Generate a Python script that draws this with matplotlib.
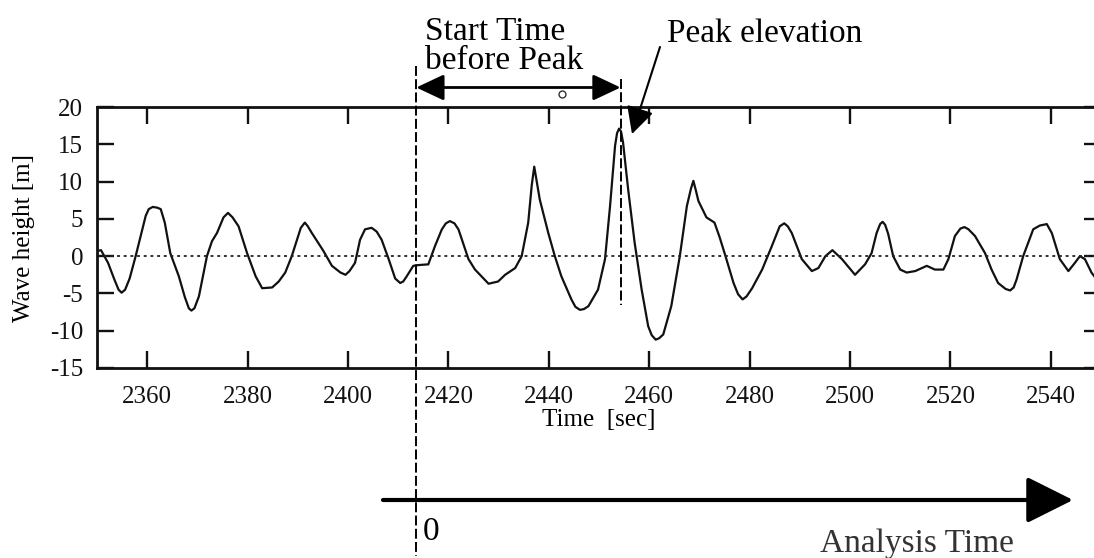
import matplotlib.pyplot as plt
from matplotlib.lines import Line2D
from matplotlib.transforms import blended_transform_factory

# wave record: time [sec] and surface elevation [m]
time_sec = [2350.1, 2350.8, 2352.2, 2353.5, 2354.3, 2354.9, 2355.6, 2356.5, 2357.7, 2359.7,
            2360.3, 2361.1, 2362.0, 2362.7, 2363.5, 2364.6, 2366.3, 2367.5, 2368.3, 2368.8,
            2369.4, 2370.3, 2371.9, 2372.9, 2373.9, 2375.2, 2376.1, 2377.0, 2378.2, 2379.9,
            2381.6, 2382.9, 2384.9, 2386.2, 2387.5, 2388.8, 2390.6, 2391.4, 2392.0, 2392.8,
            2395.1, 2396.8, 2398.5, 2399.5, 2400.3, 2401.4, 2402.4, 2403.4, 2404.7, 2405.7,
            2406.7, 2408.1, 2409.4, 2410.4, 2411.0, 2411.7, 2413.0, 2414.0, 2416.0, 2417.3,
            2418.7, 2419.5, 2420.3, 2421.2, 2422.0, 2424.0, 2425.3, 2428.0, 2429.9, 2431.3,
            2433.3, 2434.6, 2435.9, 2436.6, 2437.1, 2437.6, 2438.2, 2439.9, 2441.2, 2442.5,
            2444.5, 2445.3, 2446.2, 2447.0, 2447.9, 2449.8, 2451.2, 2452.2, 2453.2, 2453.6,
            2454.0, 2454.4, 2454.8, 2455.8, 2457.1, 2458.5, 2459.8, 2460.5, 2461.3, 2462.0,
            2462.8, 2464.4, 2466.1, 2467.5, 2468.3, 2468.8, 2469.3, 2469.8, 2471.4, 2473.0,
            2474.0, 2475.2, 2476.8, 2477.7, 2478.6, 2479.4, 2480.5, 2482.5, 2484.4, 2486.0,
            2486.9, 2487.6, 2488.4, 2490.4, 2492.4, 2493.7, 2495.1, 2496.5, 2498.4, 2501.0,
            2503.0, 2504.3, 2505.3, 2506.0, 2506.5, 2507.0, 2507.6, 2508.6, 2510.0, 2511.3,
            2513.0, 2515.3, 2516.9, 2518.6, 2519.6, 2520.9, 2522.0, 2522.8, 2523.6, 2524.9,
            2526.9, 2528.2, 2529.5, 2531.0, 2531.9, 2532.6, 2533.2, 2534.5, 2536.5, 2537.8,
            2539.2, 2540.2, 2541.8, 2543.5, 2544.8, 2545.8, 2546.8, 2548.1, 2549.0]
wave_height = [0.7, 0.8, -0.9, -3.2, -4.5, -4.9, -4.5, -3.0, 0.0, 5.4,
               6.3, 6.6, 6.5, 6.3, 4.5, 0.4, -2.7, -5.5, -7.0, -7.3,
               -7.0, -5.4, 0.0, 2.0, 3.1, 5.2, 5.8, 5.2, 4.0, 0.4,
               -2.7, -4.3, -4.2, -3.4, -2.2, 0.0, 3.8, 4.5, 4.0, 3.1,
               0.7, -1.3, -2.2, -2.5, -2.0, -0.9, 2.2, 3.6, 3.8, 3.3,
               2.2, -0.4, -3.0, -3.6, -3.4, -2.7, -1.3, -1.2, -1.1, 1.3,
               3.6, 4.4, 4.7, 4.4, 3.6, -0.4, -1.8, -3.7, -3.4, -2.5,
               -1.6, 0.0, 4.5, 9.5, 12.0, 10.0, 7.6, 3.1, 0.0, -2.7,
               -5.8, -6.8, -7.2, -7.1, -6.7, -4.5, -0.4, 6.7, 14.8, 16.5,
               17.1, 16.7, 15.2, 9.0, 1.8, -4.5, -9.4, -10.6, -11.2, -11.0,
               -10.5, -6.7, 0.0, 6.7, 9.0, 10.1, 8.8, 7.4, 5.2, 4.5,
               2.6, 0.0, -3.6, -5.1, -5.8, -5.4, -4.3, -1.8, 1.3, 4.0,
               4.4, 4.0, 3.1, -0.4, -2.0, -1.6, 0.0, 0.8, -0.4, -2.5,
               -1.1, 0.4, 3.1, 4.3, 4.6, 4.2, 3.0, 0.0, -1.8, -2.2,
               -2.0, -1.3, -1.8, -1.8, -0.4, 2.7, 3.7, 3.9, 3.6, 2.7,
               0.4, -1.8, -3.6, -4.4, -4.6, -4.2, -3.1, 0.0, 3.6, 4.1,
               4.3, 3.1, -0.4, -2.0, -0.9, 0.0, -0.4, -2.2, -3.0]

x_ticks = [2360, 2380, 2400, 2420, 2440, 2460, 2480, 2500, 2520, 2540]
y_ticks = [-15, -10, -5, 0, 5, 10, 15, 20]

t_start = 2413.6   # start of analysis window
t_peak = 2454.3    # time of peak elevation

plt.rcParams['font.family'] = ['Liberation Serif', 'DejaVu Serif']
plt.rcParams['axes.unicode_minus'] = False

W, H = 1094, 558
fig = plt.figure(figsize=(W / 100, H / 100), dpi=100)
ax = fig.add_axes([97 / W, 1 - 368 / H, (1101 - 97) / W, (368 - 107) / H])

ax.plot(time_sec, wave_height, color='#111111', lw=1.6,
        solid_joinstyle='round', solid_capstyle='round')
ax.axhline(0, color='#222222', lw=1.3, linestyle=(0, (1.6, 2.1)))

ax.set_xlim(2350, 2550)
ax.set_ylim(-15, 20)
ax.set_xticks(x_ticks)
ax.set_yticks(y_ticks)
ax.tick_params(direction='in', length=12, width=1.7, top=True, right=True,
               labelsize=18, colors='#111111')
ax.tick_params(axis='x', pad=13)
ax.tick_params(axis='y', pad=10)
for sp in ax.spines.values():
    sp.set_linewidth(2)
    sp.set_color('#111111')

ax.set_xlabel('Time  [sec]', fontsize=18, labelpad=1)
ax.set_ylabel('Wave height [m]', fontsize=18, labelpad=11)

# time markers crossing the figure
bt = blended_transform_factory(ax.transData, fig.transFigure)
dash = (0, (5.1, 1.7))
fig.add_artist(Line2D([t_start, t_start], [1 - 66 / H, 1 - 556 / H], transform=bt,
                      color='black', lw=1.4, linestyle=dash))
fig.add_artist(Line2D([t_peak, t_peak], [1 - 79 / H, 1 - 305 / H], transform=bt,
                      color='black', lw=1.4, linestyle=dash))

# start-time-before-peak span
y_span = 1 - 87.5 / H
ax.annotate('', xy=(t_peak, y_span), xytext=(t_start, y_span), xycoords=bt, textcoords=bt,
            arrowprops=dict(arrowstyle='<|-|>,head_length=1.7,head_width=0.8',
                            mutation_scale=10, lw=2, color='black', shrinkA=0, shrinkB=0),
            annotation_clip=False)
fig.add_artist(Line2D([562 / W], [1 - 94 / H], marker='o', ms=5, mfc='white',
                      mec='#333333', mew=1))

fig.text(425 / W, 1 - 40 / H, 'Start Time', fontsize=24, va='baseline')
fig.text(425 / W, 1 - 69 / H, 'before Peak', fontsize=24, va='baseline')
fig.text(667 / W, 1 - 42 / H, 'Peak elevation', fontsize=24, va='baseline')

ax.annotate('', xy=(632 / W, 1 - 134 / H), xytext=(660 / W, 1 - 47 / H),
            xycoords='figure fraction', textcoords='figure fraction',
            arrowprops=dict(arrowstyle='-|>,head_length=1.65,head_width=0.85',
                            mutation_scale=10, lw=1.5, color='black', shrinkA=0, shrinkB=0),
            annotation_clip=False)

# analysis time axis
ax.annotate('', xy=(1073 / W, 1 - 500 / H), xytext=(383 / W, 1 - 500 / H),
            xycoords='figure fraction', textcoords='figure fraction',
            arrowprops=dict(arrowstyle='-|>,head_length=1.44,head_width=0.72',
                            mutation_scale=20, lw=3, color='black', shrinkA=0, shrinkB=0),
            annotation_clip=False)
fig.text(423 / W, 1 - 540 / H, '0', fontsize=24, va='baseline')
fig.text(820 / W, 1 - 552 / H, 'Analysis Time', fontsize=24, va='baseline', color='#333333')

fig.savefig('out.png', dpi=100)
